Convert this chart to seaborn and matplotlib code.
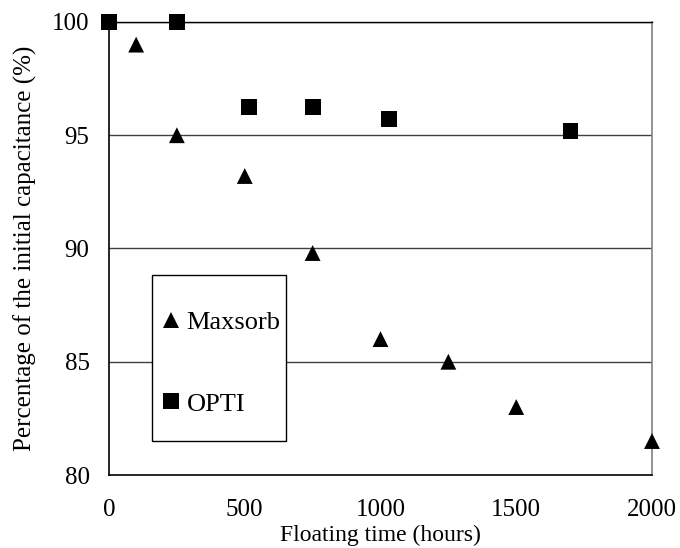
import matplotlib
matplotlib.use("Agg")
import matplotlib.pyplot as plt
import seaborn as sns
import pandas as pd
from matplotlib.patches import Rectangle

# data
maxsorb_hours = [100, 250, 500, 750, 1000, 1250, 1500, 2000]
maxsorb_pct = [99.0, 95.0, 93.2, 89.8, 86.0, 85.0, 83.0, 81.5]
opti_hours = [0, 250, 515, 750, 1030, 1700]
opti_pct = [100.0, 100.0, 96.25, 96.25, 95.7, 95.2]
series_names = ["Maxsorb", "OPTI"]
x_ticks = [0, 500, 1000, 1500, 2000]
y_ticks = [80, 85, 90, 95, 100]

df = pd.concat([
    pd.DataFrame({"hours": maxsorb_hours, "pct": maxsorb_pct, "Material": series_names[0]}),
    pd.DataFrame({"hours": opti_hours, "pct": opti_pct, "Material": series_names[1]}),
], ignore_index=True)

sns.set_theme(style="white")
plt.rcParams["font.family"] = ["Liberation Serif", "DejaVu Serif"]
plt.rcParams["font.size"] = 18
plt.rcParams["text.color"] = "black"
plt.rcParams["axes.labelcolor"] = "black"

fig = plt.figure(figsize=(6.8, 5.48), dpi=100)
ax = fig.add_axes([0.1603, 0.1332, 0.7985, 0.8267])

sns.scatterplot(data=df, x="hours", y="pct", hue="Material", style="Material",
                palette={"Maxsorb": "black", "OPTI": "black"},
                markers={"Maxsorb": "^", "OPTI": "s"}, s=130, linewidth=0,
                ax=ax, clip_on=False, zorder=5)

ax.set_xlim(0, 2000)
ax.set_ylim(80, 100)
ax.set_xticks(x_ticks)
ax.set_yticks(y_ticks)
ax.tick_params(axis="both", which="both", direction="out", length=5, width=1,
               color="black", labelsize=18, labelcolor="black")
ax.tick_params(axis="x", pad=12)
ax.tick_params(axis="y", pad=9)

for yv in y_ticks[1:]:
    ax.axhline(yv, color="#404040", lw=1, zorder=1)

for side in ["left", "bottom"]:
    ax.spines[side].set_color("black")
    ax.spines[side].set_linewidth(1.2)
ax.spines["right"].set_color("#808080")
ax.spines["right"].set_linewidth(1.2)
ax.spines["top"].set_color("black")
ax.spines["top"].set_linewidth(1.0)

ax.set_xlabel("Floating time (hours)", fontsize=17, color="black")
ax.xaxis.set_label_coords(0.5, -0.110)
ax.set_ylabel("Percentage of the initial capacitance (%)", fontsize=18, labelpad=11, color="black")

handles, labels = ax.get_legend_handles_labels()
hl = [(h, l) for h, l in zip(handles, labels) if l in series_names]
if ax.get_legend() is not None:
    ax.get_legend().remove()
leg = ax.legend([h for h, _ in hl], [l for _, l in hl], loc="upper left",
                bbox_to_anchor=(0.065, 0.392), frameon=False, borderpad=0,
                handlelength=1.0, handletextpad=0.1, labelspacing=2.2,
                fontsize=19, markerscale=1.0, labelcolor="black")

rect = Rectangle((0.080, 0.075), 0.246, 0.366, transform=ax.transAxes,
                 facecolor="white", edgecolor="black", lw=1.0, zorder=3)
ax.add_patch(rect)
leg.set_zorder(6)

fig.savefig("out.png", dpi=100)
